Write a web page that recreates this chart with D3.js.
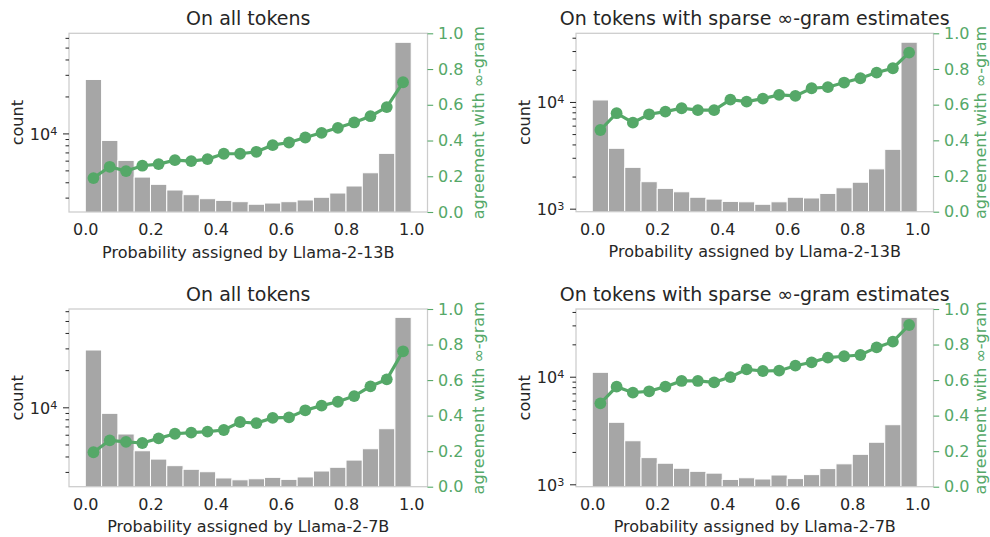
<!DOCTYPE html>
<html>
<head>
<meta charset="utf-8">
<script src="https://cdn.jsdelivr.net/npm/d3@7"></script>
<style>
  body { margin: 0; background: #fff; }
  svg { display: block; }
  text { font-family: "DejaVu Sans", sans-serif; }
</style>
</head>
<body>
<svg id="chart" width="990" height="537"></svg>
<script>
// Histogram bins over model probability (20 bins of width 0.05)
const binEdges = [0, 0.05, 0.1, 0.15, 0.2, 0.25, 0.3, 0.35, 0.4, 0.45, 0.5,
                  0.55, 0.6, 0.65, 0.7, 0.75, 0.8, 0.85, 0.9, 0.95, 1.0];
const binCenters = [0.025, 0.075, 0.125, 0.175, 0.225, 0.275, 0.325, 0.375, 0.425, 0.475,
                    0.525, 0.575, 0.625, 0.675, 0.725, 0.775, 0.825, 0.875, 0.925, 0.975];

// Llama-2-13B, all tokens
const counts13bAll = [27500, 8770, 6030, 4410, 3850, 3460, 3170, 2940, 2850, 2780,
                      2650, 2710, 2780, 2870, 3020, 3270, 3730, 4780, 6880, 55200];
const agree13bAll = [0.19, 0.253, 0.229, 0.259, 0.268, 0.29, 0.285, 0.296, 0.326, 0.326,
                     0.337, 0.374, 0.389, 0.417, 0.443, 0.471, 0.501, 0.536, 0.587, 0.726];

// Llama-2-13B, tokens with sparse ∞-gram estimates
const counts13bSparse = [10440, 3680, 2440, 1790, 1550, 1440, 1280, 1230, 1170, 1160,
                         1100, 1160, 1280, 1260, 1390, 1570, 1770, 2360, 3600, 36300];
const agree13bSparse = [0.458, 0.552, 0.499, 0.546, 0.561, 0.58, 0.569, 0.569, 0.628, 0.617,
                        0.634, 0.655, 0.649, 0.692, 0.698, 0.724, 0.748, 0.78, 0.804, 0.892];

// Llama-2-7B, all tokens
const counts7bAll = [29100, 8940, 6080, 4450, 3810, 3370, 3150, 3010, 2680, 2590,
                     2640, 2710, 2610, 2730, 3050, 3270, 3740, 4620, 6710, 53500];
const agree7bAll = [0.194, 0.261, 0.252, 0.246, 0.272, 0.298, 0.304, 0.31, 0.319, 0.364,
                    0.358, 0.387, 0.39, 0.43, 0.456, 0.478, 0.51, 0.565, 0.604, 0.762];

// Llama-2-7B, tokens with sparse ∞-gram estimates
const counts7bSparse = [10990, 3770, 2540, 1770, 1570, 1410, 1320, 1270, 1110, 1150,
                        1120, 1220, 1130, 1230, 1400, 1550, 1900, 2460, 3580, 35650];
const agree7bSparse = [0.469, 0.563, 0.529, 0.537, 0.563, 0.595, 0.595, 0.587, 0.617, 0.66,
                       0.651, 0.653, 0.681, 0.7, 0.726, 0.734, 0.741, 0.784, 0.816, 0.91];

const xTicks = [0, 0.2, 0.4, 0.6, 0.8, 1.0];
const agreeTicks = [0, 0.2, 0.4, 0.6, 0.8, 1.0];
const titles = ["On all tokens", "On tokens with sparse ∞-gram estimates"];
const xLabels = ["Probability assigned by Llama-2-13B", "Probability assigned by Llama-2-7B"];
const countLabel = "count";
const agreeLabel = "agreement with ∞-gram";

const TEXT = "#262626";
const GREEN = "#55a868";
const BAR = "#a6a6a6";
const SPINE = "#cccccc";

const panels = [
  { left: 69,  right: 427.5, top: 33.3, bottom: 212,   yDomain: [2291, 65350], rLabelGap: 56,
    counts: counts13bAll, agree: agree13bAll, title: titles[0], xLabel: xLabels[0] },
  { left: 576, right: 933.5, top: 33.3, bottom: 211.7, yDomain: [937, 44000], rLabelGap: 52.5,
    counts: counts13bSparse, agree: agree13bSparse, title: titles[1], xLabel: xLabels[0] },
  { left: 69,  right: 427.5, top: 309,  bottom: 486.7, yDomain: [2277, 62500], rLabelGap: 56,
    counts: counts7bAll, agree: agree7bAll, title: titles[0], xLabel: xLabels[1] },
  { left: 576, right: 933.5, top: 309,  bottom: 486.7, yDomain: [950, 42600], rLabelGap: 52.5,
    counts: counts7bSparse, agree: agree7bSparse, title: titles[1], xLabel: xLabels[1] }
];

const svg = d3.select("#chart");

panels.forEach((p, i) => {
  const g = svg.append("g");
  const x = d3.scaleLinear().domain([-0.05, 1.05]).range([p.left, p.right]);
  const y = d3.scaleLog().domain(p.yDomain).range([p.bottom, p.top]);
  const yR = d3.scaleLinear().domain([0, 1]).range([p.bottom, p.top]);

  const clipId = "clip" + i;
  svg.append("clipPath").attr("id", clipId)
    .append("rect")
    .attr("x", p.left).attr("y", p.top)
    .attr("width", p.right - p.left).attr("height", p.bottom - p.top);

  // histogram bars
  g.append("g").attr("clip-path", `url(#${clipId})`)
    .selectAll("rect")
    .data(p.counts)
    .join("rect")
    .attr("x", (d, k) => x(binEdges[k]))
    .attr("width", (d, k) => x(binEdges[k + 1]) - x(binEdges[k]))
    .attr("y", d => y(d))
    .attr("height", d => p.bottom - y(d) + 5)
    .attr("fill", BAR)
    .attr("stroke", "#fff")
    .attr("stroke-width", 1);

  // frame
  g.append("rect")
    .attr("x", p.left).attr("y", p.top)
    .attr("width", p.right - p.left).attr("height", p.bottom - p.top)
    .attr("fill", "none").attr("stroke", SPINE).attr("stroke-width", 1.25);

  // agreement line with markers
  const line = d3.line().x((d, k) => x(binCenters[k])).y(d => yR(d));
  g.append("path")
    .datum(p.agree)
    .attr("d", line)
    .attr("fill", "none")
    .attr("stroke", GREEN)
    .attr("stroke-width", 3.2);
  g.append("g").selectAll("circle")
    .data(p.agree)
    .join("circle")
    .attr("cx", (d, k) => x(binCenters[k]))
    .attr("cy", d => yR(d))
    .attr("r", 5.9)
    .attr("fill", GREEN);

  // left log axis: decades labelled, minor ticks unlabelled
  const allTicks = y.ticks();
  const isMajor = v => Math.abs(Math.log10(v) - Math.round(Math.log10(v))) < 1e-9;
  const major = allTicks.filter(isMajor);
  const minor = allTicks.filter(v => !isMajor(v));

  const minorAxis = g.append("g")
    .attr("transform", `translate(${p.left},0)`)
    .call(d3.axisLeft(y).tickValues(minor).tickSize(3.5).tickFormat(""));
  const majorAxis = g.append("g")
    .attr("transform", `translate(${p.left},0)`)
    .call(d3.axisLeft(y).tickValues(major).tickSize(6).tickPadding(5.7).tickFormat(""));
  [minorAxis, majorAxis].forEach(a => {
    a.select(".domain").remove();
    a.selectAll("line").attr("stroke", TEXT).attr("stroke-width", 1);
  });
  majorAxis.selectAll(".tick text")
    .attr("fill", TEXT)
    .attr("font-size", 16)
    .attr("dy", "0.36em")
    .each(function(d) {
      const t = d3.select(this);
      t.text("10");
      t.append("tspan")
        .attr("dy", "-0.45em")
        .attr("font-size", 11.2)
        .text(String(Math.round(Math.log10(d))));
    });

  // right agreement axis
  const rAxis = g.append("g")
    .attr("transform", `translate(${p.right},0)`)
    .call(d3.axisRight(yR).tickValues(agreeTicks).tickSize(5.7).tickPadding(4.9)
      .tickFormat(d3.format(".1f")));
  rAxis.select(".domain").remove();
  rAxis.selectAll("line").attr("stroke", GREEN).attr("stroke-width", 1.1);
  rAxis.selectAll("text").attr("fill", GREEN).attr("font-size", 16);

  // bottom axis (labels only)
  const bAxis = g.append("g")
    .attr("transform", `translate(0,${p.bottom})`)
    .call(d3.axisBottom(x).tickValues(xTicks).tickSize(0).tickPadding(11.8)
      .tickFormat(d3.format(".1f")));
  bAxis.select(".domain").remove();
  bAxis.selectAll("text").attr("fill", TEXT).attr("font-size", 16);

  // titles and axis labels
  const cx = (p.left + p.right) / 2;
  const cy = (p.top + p.bottom) / 2;
  g.append("text")
    .attr("x", cx).attr("y", p.top - 8.5)
    .attr("text-anchor", "middle")
    .attr("font-size", 19).attr("fill", TEXT)
    .text(p.title);
  g.append("text")
    .attr("x", cx).attr("y", p.bottom + 45.7)
    .attr("text-anchor", "middle")
    .attr("font-size", 16).attr("fill", TEXT)
    .text(p.xLabel);
  g.append("text")
    .attr("transform", `translate(${p.left - 46},${cy}) rotate(-90)`)
    .attr("text-anchor", "middle")
    .attr("font-size", 16).attr("fill", TEXT)
    .text(countLabel);
  g.append("text")
    .attr("transform", `translate(${p.right + p.rLabelGap},${cy}) rotate(-90)`)
    .attr("text-anchor", "middle")
    .attr("font-size", 16).attr("fill", GREEN)
    .text(agreeLabel);
});
</script>
</body>
</html>
